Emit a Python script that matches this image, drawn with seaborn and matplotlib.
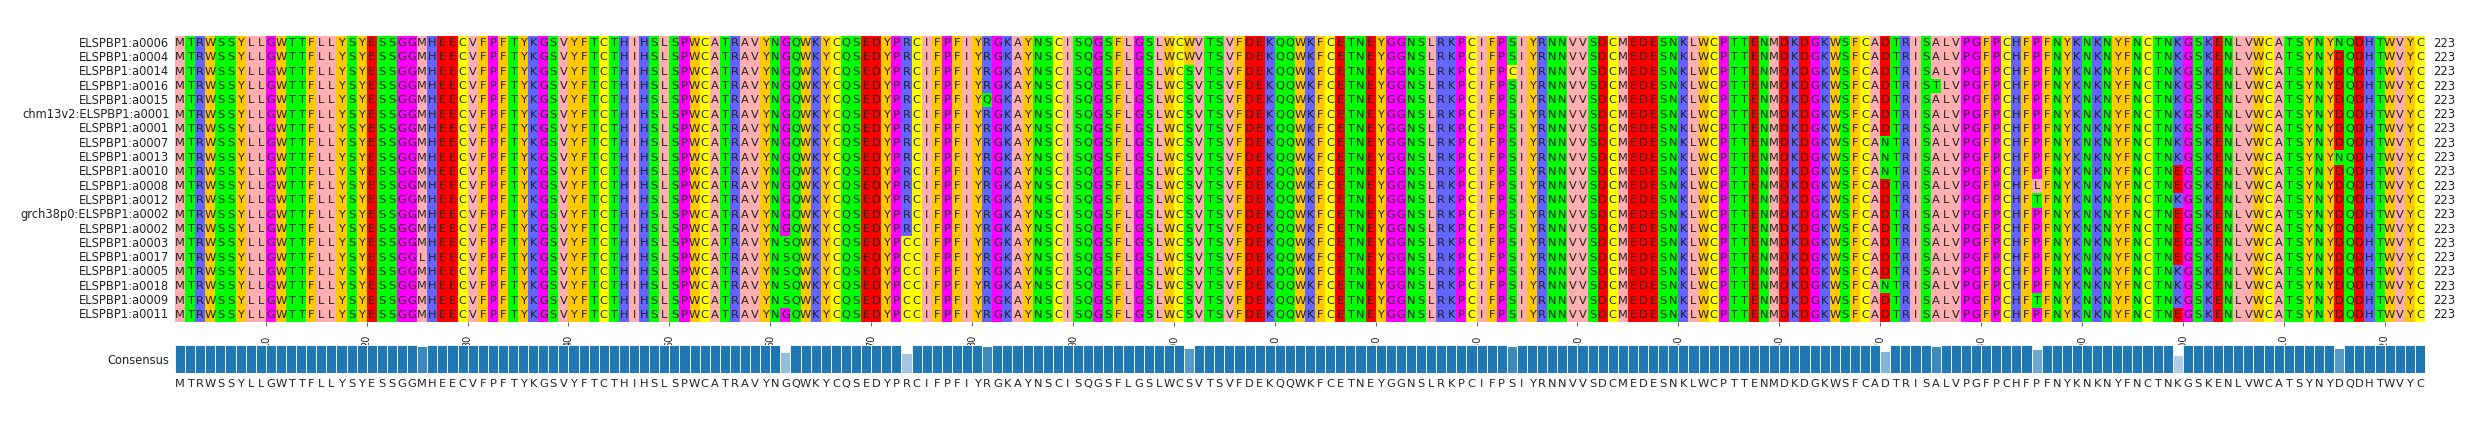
import numpy as np
import pandas as pd
import seaborn as sns
import matplotlib
matplotlib.use("Agg")
import matplotlib.pyplot as plt
from matplotlib.colors import ListedColormap, to_rgb

names = ["ELSPBP1:a0006", "ELSPBP1:a0004", "ELSPBP1:a0014", "ELSPBP1:a0016", "ELSPBP1:a0015",
         "chm13v2:ELSPBP1:a0001", "ELSPBP1:a0001", "ELSPBP1:a0007", "ELSPBP1:a0013", "ELSPBP1:a0010",
         "ELSPBP1:a0008", "ELSPBP1:a0012", "grch38p0:ELSPBP1:a0002", "ELSPBP1:a0002", "ELSPBP1:a0003",
         "ELSPBP1:a0017", "ELSPBP1:a0005", "ELSPBP1:a0018", "ELSPBP1:a0009", "ELSPBP1:a0011"]

consensus = ("MTRWSSYLLGWTTFLLYSYESSGGMHEECVFPFTYKGSVYFTCTHIHSLSPWCATRAVYN"
             "GQWKYCQSEDYPRCIFPFIYRGKAYNSCISQGSFLGSLWCSVTSVFDEKQQWKFCETNEY"
             "GGNSLRKPCIFPSIYRNNVVSDCMEDESNKLWCPTTENMDKDGKWSFCADTRISALVPGF"
             "PCHFPFNYKNKNYFNCTNKGSKENLVWCATSYNYDQDHTWVYC")

# variants: (1-based position, residue, row indices)
variants = [
    (25, "L", [15]),
    (61, "S", [14, 15, 16, 17, 18]),
    (73, "C", [14, 15, 16, 17, 18, 19]),
    (81, "Q", [4]),
    (101, "W", [0, 1]),
    (133, "C", [2]),
    (170, "N", [7, 8, 9, 17]),
    (175, "T", [3]),
    (185, "L", [10]),
    (185, "T", [11, 18]),
    (199, "E", [9, 10, 12, 13, 14, 15, 19]),
    (215, "N", [0, 8]),
]

seqs = [list(consensus) for _ in names]
for pos, aa, rows in variants:
    for r in rows:
        seqs[r][pos - 1] = aa
letters = np.array(seqs)
nrow, ncol = letters.shape

groups = {"I": 0, "L": 0, "V": 0, "A": 0, "M": 0,
          "F": 1, "W": 1, "Y": 1,
          "K": 2, "R": 2, "H": 2,
          "D": 3, "E": 3,
          "S": 4, "T": 4, "N": 4, "Q": 4,
          "P": 5, "G": 5,
          "C": 6}
colors = ["#ffafaf", "#ffc800", "#6464ff", "#ff0000", "#00ff00", "#ff00ff", "#ffff00"]
codes = np.vectorize(groups.get)(letters)

cons_frac = [(letters[:, j] == consensus[j]).mean() for j in range(ncol)]

fig = plt.figure(figsize=(24.87, 4.23), dpi=100)
W, H = 2487, 423
ax = fig.add_axes([175 / W, 1 - 322 / H, (2425 - 175) / W, (322 - 36) / H])
sns.heatmap(pd.DataFrame(codes, index=names), ax=ax, cmap=ListedColormap(colors),
            vmin=-0.5, vmax=6.5, cbar=False, annot=letters, fmt="",
            annot_kws={"fontsize": 8.2, "color": "#222222"})
ax.set_yticks(np.arange(nrow) + 0.5)
ax.set_yticklabels(names, fontsize=8.3, color="#222222")
ax.tick_params(axis="y", length=0, pad=4)
ticks = list(range(10, 221, 10))
ax.set_xticks([t - 1 for t in ticks])
ax.set_xticklabels([str(t) for t in ticks], fontsize=7, color="#222222")
ax.tick_params(axis="x", length=3, width=0.6, pad=6, color="#444444")
for i in range(nrow):
    ax.text(ncol + 0.8, i + 0.5, str(ncol), fontsize=8.3, va="center", ha="left", color="#222222")

cax = fig.add_axes([175 / W, 1 - 373 / H, (2425 - 175) / W, (373 - 345) / H])
base = np.array(to_rgb("#1f77b4"))
bar_cols = [tuple(1 - (1 - base) * (0.3 + 0.7 * ((v - 0.5) / 0.5) ** 2)) for v in cons_frac]
cax.bar(np.arange(ncol) + 0.5, cons_frac, width=1.0, color=bar_cols, edgecolor="white", linewidth=0.6)
cax.set_xlim(0, ncol)
cax.set_ylim(0, 1)
for s in cax.spines.values():
    s.set_visible(False)
cax.set_xticks([])
cax.set_yticks([0.5])
cax.set_yticklabels(["Consensus"], fontsize=8.3, color="#222222")
cax.tick_params(axis="y", length=0, pad=4)
for j, c in enumerate(consensus):
    cax.text(j + 0.5, -0.2, c, fontsize=8.2, ha="center", va="top", color="#222222")

fig.savefig("out.png", dpi=100, facecolor="white")
